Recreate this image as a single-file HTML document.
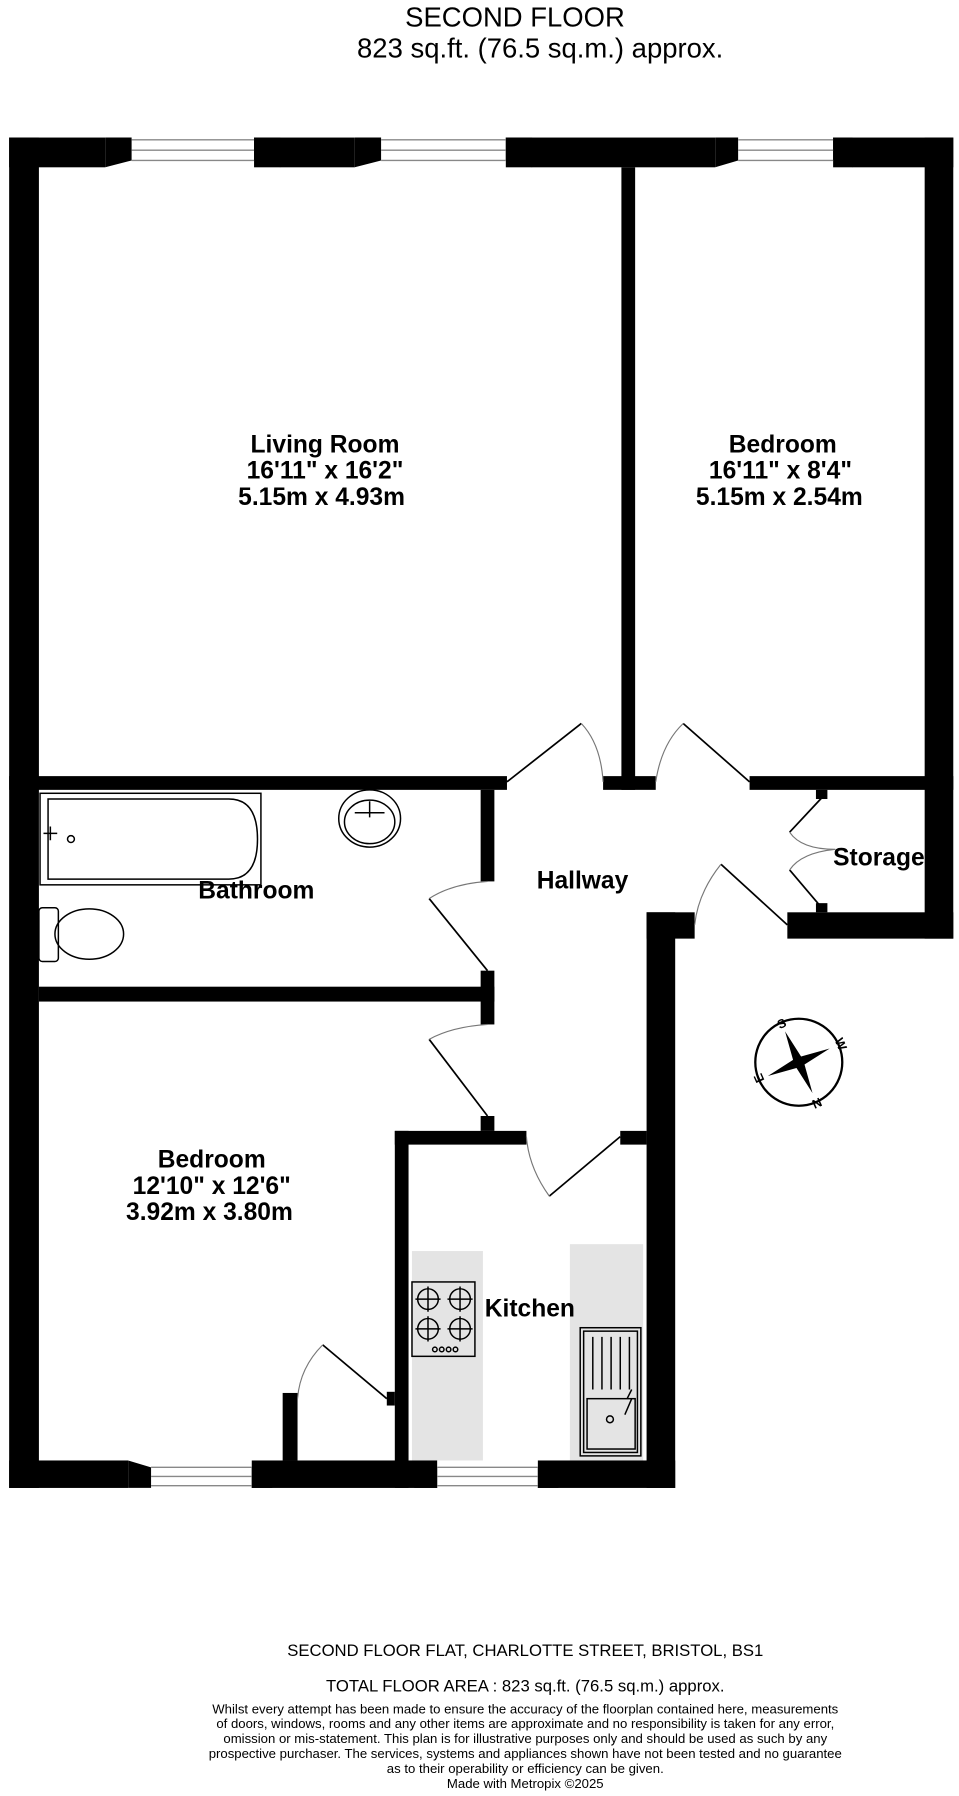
<!DOCTYPE html>
<html><head><meta charset="utf-8"><style>html,body{margin:0;padding:0;background:#fff}svg{display:block}</style></head>
<body>
<svg width="959" height="1796" viewBox="0 0 838 1569" xmlns="http://www.w3.org/2000/svg" font-family="Liberation Sans, sans-serif">
<rect width="838" height="1569" fill="#fff"/>
<text x="450" y="23" font-size="24" text-anchor="middle">SECOND FLOOR</text>
<text x="472" y="50" font-size="24" text-anchor="middle">823 sq.ft. (76.5 sq.m.) approx.</text>
<rect x="360" y="1093" width="62" height="183" fill="#e4e4e4"/>
<rect x="498" y="1087" width="64" height="189" fill="#e4e4e4"/>
<g fill="#000">
<rect x="8" y="120" width="84" height="26"/><rect x="222" y="120" width="88" height="26"/><rect x="442" y="120" width="183" height="26"/><rect x="728" y="120" width="105" height="26"/>
<polygon points="92,120 115,120 115,140 92,146"/><polygon points="222,120 245,120 245,146 222,140"/>
<polygon points="310,120 333,120 333,140 310,146"/><polygon points="442,120 465,120 465,146 442,140"/>
<polygon points="625,120 645,120 645,140 625,146"/><polygon points="728,120 745,120 745,146 728,140"/>
<rect x="8" y="120" width="26" height="1180"/>
<rect x="808" y="120" width="25" height="700"/>
<rect x="543" y="146" width="12" height="544"/>
<rect x="8" y="678" width="435" height="12"/><rect x="527" y="678" width="46" height="12"/><rect x="655" y="678" width="178" height="12"/>
<rect x="420" y="690" width="12" height="80"/><rect x="420" y="848" width="12" height="47"/>
<rect x="34" y="862" width="398" height="13"/>
<rect x="713" y="690" width="10" height="8"/><rect x="713" y="789" width="10" height="8"/>
<rect x="688" y="797" width="145" height="23"/>
<rect x="565" y="797" width="42" height="23"/><rect x="565" y="797" width="25" height="503"/>
<rect x="345" y="988" width="115" height="12"/><rect x="542" y="988" width="23" height="12"/>
<rect x="420" y="975" width="12" height="13"/>
<rect x="345" y="988" width="12" height="312"/>
<rect x="8" y="1276" width="104" height="24"/><rect x="220" y="1276" width="162" height="24"/><rect x="470" y="1276" width="120" height="24"/>
<polygon points="112,1276 132,1282 132,1300 112,1300"/><polygon points="220,1282 238,1276 238,1300 220,1300"/>
<polygon points="362,1276 382,1282 382,1300 362,1300"/><polygon points="470,1282 488,1276 488,1300 470,1300"/>
<rect x="247" y="1217" width="13" height="59"/><rect x="338" y="1216" width="7" height="12"/>
</g>
<g stroke="#888" stroke-width="1.2">
<line x1="115" y1="122" x2="222" y2="122"/><line x1="115" y1="131" x2="222" y2="131"/><line x1="115" y1="140" x2="222" y2="140"/>
<line x1="333" y1="122" x2="442" y2="122"/><line x1="333" y1="131" x2="442" y2="131"/><line x1="333" y1="140" x2="442" y2="140"/>
<line x1="645" y1="122" x2="728" y2="122"/><line x1="645" y1="131" x2="728" y2="131"/><line x1="645" y1="140" x2="728" y2="140"/>
<line x1="132" y1="1282" x2="220" y2="1282"/><line x1="132" y1="1290" x2="220" y2="1290"/><line x1="132" y1="1298" x2="220" y2="1298"/>
<line x1="382" y1="1282" x2="470" y2="1282"/><line x1="382" y1="1290" x2="470" y2="1290"/><line x1="382" y1="1298" x2="470" y2="1298"/>
</g>
<g fill="none" stroke="#000" stroke-width="1.5">
<line x1="443" y1="683" x2="508" y2="632"/><line x1="655" y1="683" x2="597" y2="632"/>
<line x1="426" y1="848" x2="375" y2="785"/><line x1="426" y1="975" x2="375" y2="908"/>
<line x1="542" y1="993" x2="480" y2="1045"/><line x1="688" y1="808" x2="630" y2="755"/>
<line x1="718" y1="697" x2="690" y2="727"/><line x1="718" y1="793" x2="690" y2="760"/>
<line x1="338" y1="1222" x2="282" y2="1175"/>
</g>
<g fill="none" stroke="#777" stroke-width="1">
<path d="M508,632 Q525,650 527,683"/><path d="M597,632 Q578,650 573,683"/>
<path d="M375,785 Q395,772 426,770"/><path d="M375,908 Q395,897 426,895"/>
<path d="M480,1045 Q462,1020 460,993"/><path d="M630,755 Q610,780 607,808"/>
<path d="M690,727 Q700,742 730,742 Q700,745 690,760"/><path d="M282,1175 Q262,1195 260,1222"/>
</g>
<g fill="none" stroke="#000" stroke-width="1.3">
<rect x="35" y="693" width="193" height="80"/>
<path d="M42,698 H200 Q225,698 225,733 Q225,768 200,768 H42 Z"/>
<circle cx="62" cy="733" r="3"/><path d="M38,728 h12 M44,722 v12"/>
<ellipse cx="323" cy="715" rx="27" ry="25"/><ellipse cx="323" cy="718" rx="22" ry="19"/>
<path d="M310,710 h26 M323,700 v14"/>
<rect x="34" y="793" width="17" height="47" rx="3"/><ellipse cx="78" cy="816" rx="30" ry="22"/>
<rect x="360" y="1120" width="55" height="65"/>
<circle cx="374" cy="1135" r="9"/><circle cx="402" cy="1135" r="9"/><circle cx="374" cy="1161" r="9"/><circle cx="402" cy="1161" r="9"/>
<path d="M374,1124 v22 M363,1135 h22 M402,1124 v22 M391,1135 h22 M374,1150 v22 M363,1161 h22 M402,1150 v22 M391,1161 h22"/>
<circle cx="380" cy="1179" r="2"/><circle cx="386" cy="1179" r="2"/><circle cx="392" cy="1179" r="2"/><circle cx="398" cy="1179" r="2"/>
<rect x="507" y="1160" width="53" height="112"/><rect x="510" y="1163" width="47" height="106"/>
<path d="M518,1168 v46 M526,1168 v46 M534,1168 v46 M542,1168 v46 M550,1168 v46"/>
<rect x="513" y="1222" width="42" height="44"/><circle cx="533" cy="1240" r="3"/>
<path d="M548,1222 l4,-8 M546,1236 l6,-14"/>
</g>
<g>
<circle cx="698" cy="928" r="38" fill="none" stroke="#000" stroke-width="2"/>
<polygon points="686,901 700,923 725,916 703,930 710,955 696,933 671,940 693,926" fill="#000"/>
<text x="683" y="898" font-size="11" font-weight="bold" text-anchor="middle" transform="rotate(-24 683 894)">S</text>
<text x="735" y="916" font-size="11" font-weight="bold" text-anchor="middle" transform="rotate(66 735 912)">W</text>
<text x="714" y="968" font-size="11" font-weight="bold" text-anchor="middle" transform="rotate(156 714 964)">N</text>
<text x="663" y="946" font-size="11" font-weight="bold" text-anchor="middle" transform="rotate(-114 663 942)">E</text>
</g>
<g font-weight="bold" font-size="21.5" text-anchor="middle">
<text x="284" y="395">Living Room</text><text x="284" y="418">16'11"  x 16'2"</text><text x="281" y="441">5.15m  x 4.93m</text>
<text x="684" y="395">Bedroom</text><text x="682" y="418">16'11"  x 8'4"</text><text x="681" y="441">5.15m  x 2.54m</text>
<text x="224" y="785">Bathroom</text>
<text x="509" y="776">Hallway</text>
<text x="768" y="756">Storage</text>
<text x="185" y="1020">Bedroom</text><text x="185" y="1043">12'10"  x 12'6"</text><text x="183" y="1066">3.92m  x 3.80m</text>
<text x="463" y="1150">Kitchen</text>
</g>
<g text-anchor="middle" font-size="14.6">
<text x="459" y="1447">SECOND FLOOR FLAT, CHARLOTTE STREET, BRISTOL, BS1</text>
<text x="459" y="1478">TOTAL FLOOR AREA : 823 sq.ft. (76.5 sq.m.) approx.</text>
</g>
<g text-anchor="middle" font-size="11.5">
<text x="459" y="1497">Whilst every attempt has been made to ensure the accuracy of the floorplan contained here, measurements</text>
<text x="459" y="1510">of doors, windows, rooms and any other items are approximate and no responsibility is taken for any error,</text>
<text x="459" y="1523">omission or mis-statement. This plan is for illustrative purposes only and should be used as such by any</text>
<text x="459" y="1536">prospective purchaser. The services, systems and appliances shown have not been tested and no guarantee</text>
<text x="459" y="1549">as to their operability or efficiency can be given.</text>
<text x="459" y="1562">Made with Metropix ©2025</text>
</g>
</svg>
</body></html>
